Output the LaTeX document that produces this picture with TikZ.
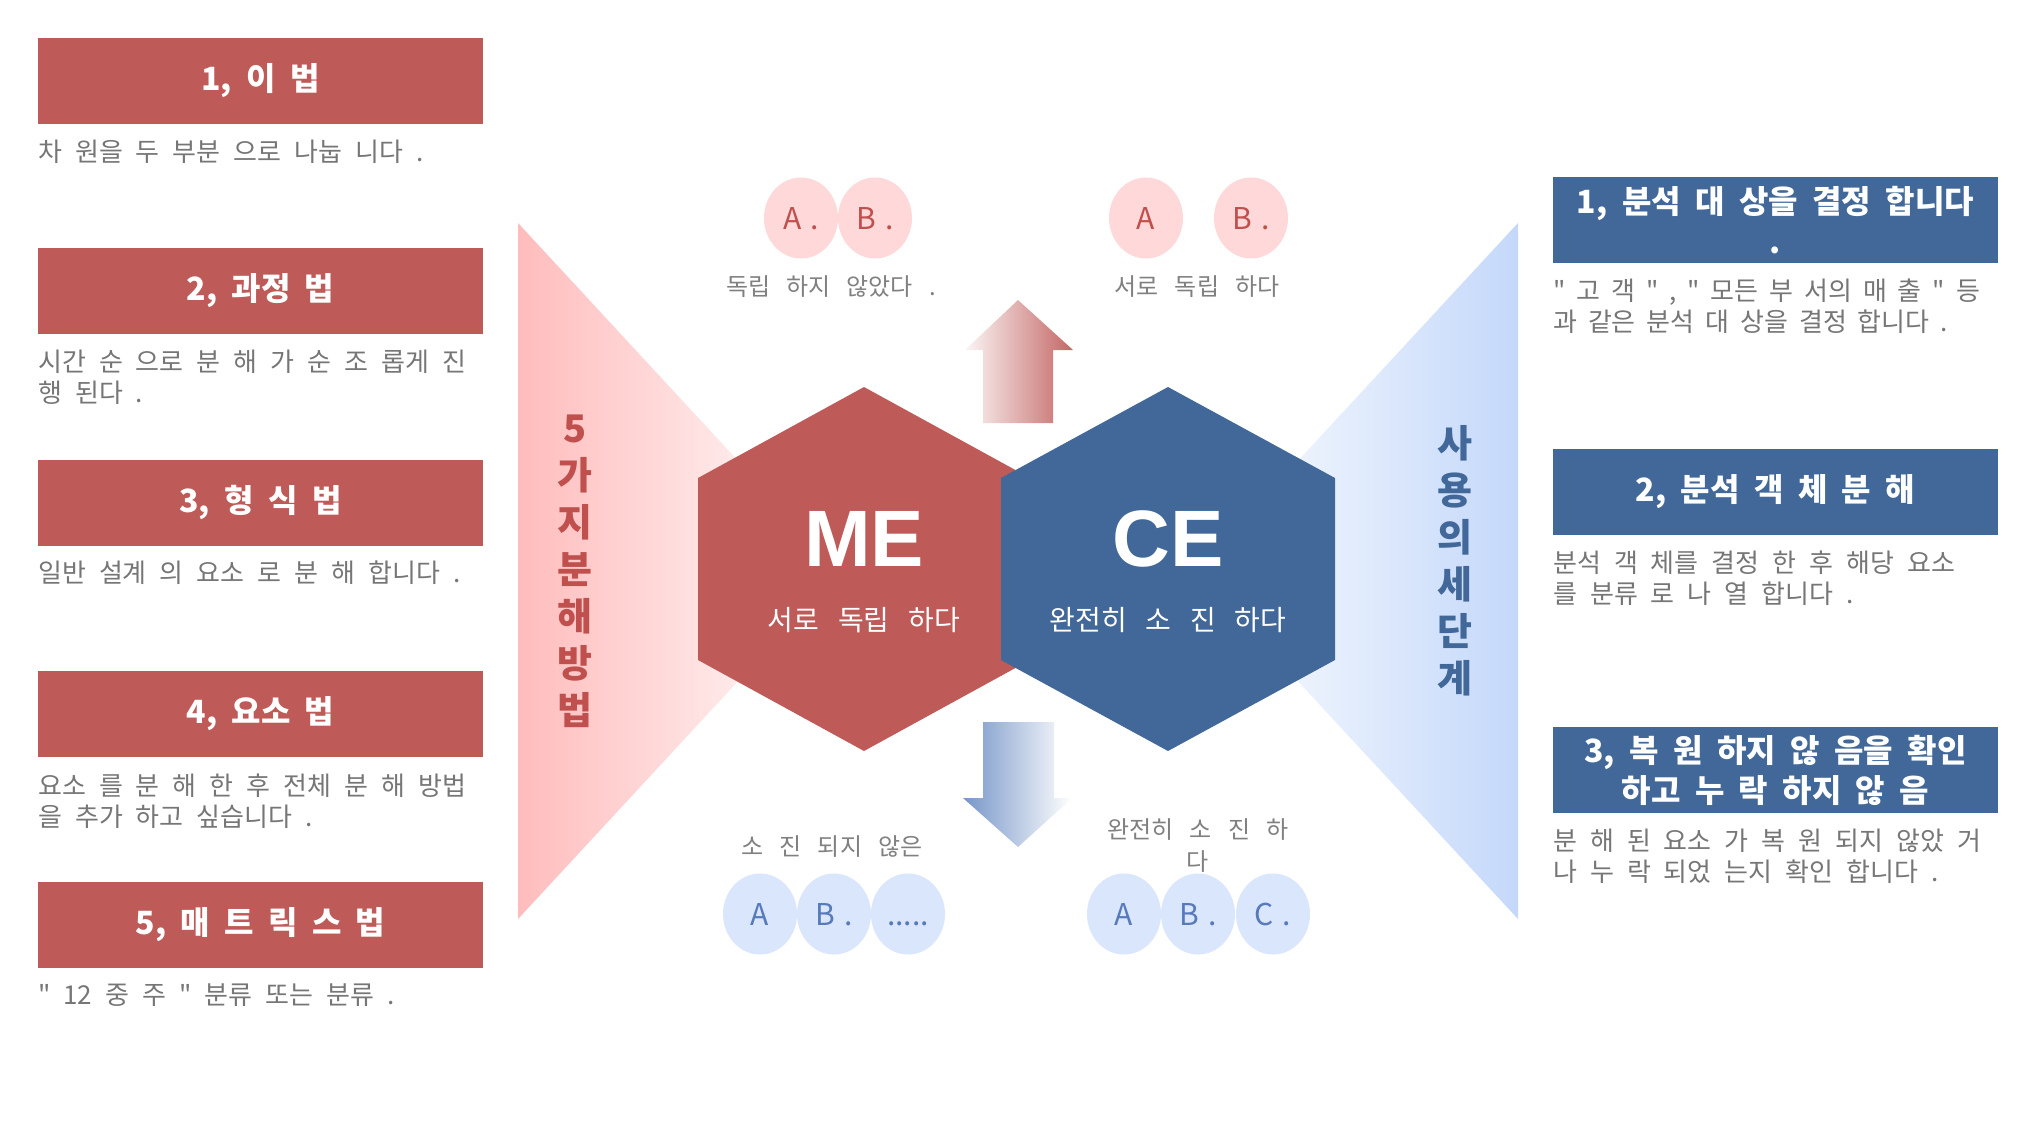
\documentclass[tikz,border=0pt]{standalone}
\usepackage{fontspec}
\usetikzlibrary{shapes.geometric}
\setmainfont{Noto Sans CJK KR}[Ligatures=TeXOff]
\newfontfamily\arl{Liberation Sans}
\newcommand\ftitle{\bfseries\fontsize{32}{40}\selectfont\setlength{\spaceskip}{0.45em}}
\newcommand\fdesc{\fontsize{26}{31}\selectfont\setlength{\spaceskip}{0.5em}}
\newcommand\fdescn{\fontsize{26}{31}\selectfont\setlength{\spaceskip}{0.42em}}
\newcommand\flbl{\fontsize{24}{32}\selectfont\setlength{\spaceskip}{0.67em}}
\newcommand\fcirc{\fontsize{30}{30}\selectfont\setlength{\spaceskip}{0.3em}}
\newcommand\fsubl{\fontsize{28}{28}\selectfont\setlength{\spaceskip}{0.67em}}
\definecolor{myred}{RGB}{190,90,88}
\definecolor{myblue}{RGB}{65,104,153}
\definecolor{pinkc}{RGB}{255,217,217}
\definecolor{bluec}{RGB}{218,230,252}
\definecolor{grayt}{RGB}{118,118,118}
\definecolor{lgrayt}{RGB}{128,128,128}
\definecolor{redt}{RGB}{192,80,77}
\definecolor{bluet}{RGB}{86,122,186}
\definecolor{tripink}{RGB}{255,188,188}
\definecolor{triblue}{RGB}{196,216,250}
\definecolor{arrblue}{RGB}{118,150,200}
\tikzset{
  lbox/.style={fill=myred, minimum width=445pt, minimum height=86pt, inner sep=0pt, text=white, font=\ftitle, align=center},
  rbox/.style={lbox, fill=myblue},
  desc/.style={anchor=west, inner sep=0pt, text=grayt, font=\fdesc, align=left},
  lbl/.style={inner sep=0pt, text=lgrayt, font=\flbl, align=center},
  pk/.style={ellipse, fill=pinkc, minimum width=74pt, minimum height=81pt, inner sep=0pt, text=redt, text height=22pt, text depth=0pt, font=\fcirc},
  bc/.style={pk, fill=bluec, text=bluet},
  vt/.style={inner sep=0pt, font=\bfseries\fontsize{38}{47}\selectfont, align=center},
  big/.style={inner sep=0pt, text=white, font=\arl\bfseries\fontsize{80}{80}\selectfont},
  sub/.style={inner sep=0pt, text=white, font=\fsubl}
}
\begin{document}
\begin{tikzpicture}[x=1pt,y=-1pt]
\useasboundingbox (0,0) rectangle (2035,1144);
\fill[white] (0,0) rectangle (2035,1144);
% side triangles
\shade[left color=tripink, right color=white] (518,223) -- (840,571) -- (518,919) -- cycle;
\shade[left color=white, right color=triblue] (1518,223) -- (1196,571) -- (1518,919) -- cycle;
% arrows
\shade[left color=myred!6!white, right color=myred!92!white] (983,423) -- (983,350) -- (965,350) -- (1018,300) -- (1073,350) -- (1053,350) -- (1053,423) -- cycle;
\shade[left color=arrblue, right color=white] (983,722) -- (1054,722) -- (1054,798) -- (1072,798) -- (1018,847) -- (963,798) -- (983,798) -- cycle;
% hexagons
\fill[myred] (864,387) -- (1030,478) -- (1030,660) -- (864,751) -- (698,660) -- (698,478) -- cycle;
\fill[myblue] (1168,387) -- (1335,478) -- (1335,660) -- (1168,751) -- (1001,660) -- (1001,478) -- cycle;
\node[big] (me) at (864,539) {ME};
\node[sub] (mes) at (864,620) {서로 독립 하다};
\node[big] (ce) at (1168,539) {CE};
\node[sub] (ces) at (1168,620) {완전히 소 진 하다};
% vertical texts
\node[vt, text=redt] (vl) at (575,571) {5\\가\\지\\분\\해\\방\\법};
\node[vt, text=myblue] (vr) at (1455,561) {사\\용\\의\\세\\단\\계};
% circles top
\node[pk] (ta1) at (801,218) {A .};
\node[pk] (tb1) at (875,218) {B .};
\node[pk] (ta2) at (1146,218) {A};
\node[pk] (tb2) at (1251,218) {B .};
\node[lbl] (tl1) at (831,287) {독립 하지 않았다 .};
\node[lbl] (tl2) at (1197,287) {서로 독립 하다};
% circles bottom
\node[bc] (ba1) at (760,914) {A};
\node[bc] (bb1) at (834,914) {B .};
\node[bc] (bd1) at (908,914) {.....};
\node[bc] (ba2) at (1124,914) {A};
\node[bc] (bb2) at (1198,914) {B .};
\node[bc] (bc2) at (1273,914) {C .};
\node[lbl] (bl1) at (832,847) {소 진 되지 않은};
\node[lbl] (bl2) at (1198,846) {완전히 소 진 하\\다};
% left boxes
\node[lbox] (l1) at (260.5,81) {1, 이 법};
\node[lbox] (l2) at (260.5,291) {2, 과정 법};
\node[lbox] (l3) at (260.5,503) {3, 형 식 법};
\node[lbox] (l4) at (260.5,714) {4, 요소 법};
\node[lbox] (l5) at (260.5,925) {5, 매 트 릭 스 법};
\node[desc] (d1) at (38,152) {차 원을 두 부분 으로 나눕 니다 .};
\node[desc] (d2) at (38,377.5) {시간 순 으로 분 해 가 순 조 롭게 진\\행 된다 .};
\node[desc] (d3) at (38,573) {일반 설계 의 요소 로 분 해 합니다 .};
\node[desc] (d4) at (38,801.5) {요소 를 분 해 한 후 전체 분 해 방법\\을 추가 하고 싶습니다 .};
\node[desc] (d5) at (38,995) {" 12 중 주 " 분류 또는 분류 .};
% right boxes
\node[rbox] (r1) at (1775.5,220) {1, 분석 대 상을 결정 합니다\\.};
\node[rbox] (r2) at (1775.5,492) {2, 분석 객 체 분 해};
\node[rbox] (r3) at (1775.5,770) {3, 복 원 하지 않 음을 확인\\하고 누 락 하지 않 음};
\node[desc, font=\fdescn] (e1) at (1553,306) {" 고 객 " , " 모든 부 서의 매 출 " 등\\과 같은 분석 대 상을 결정 합니다 .};
\node[desc] (e2) at (1553,578) {분석 객 체를 결정 한 후 해당 요소\\를 분류 로 나 열 합니다 .};
\node[desc] (e3) at (1553,856.5) {분 해 된 요소 가 복 원 되지 않았 거\\나 누 락 되었 는지 확인 합니다 .};
\end{tikzpicture}
\end{document}
